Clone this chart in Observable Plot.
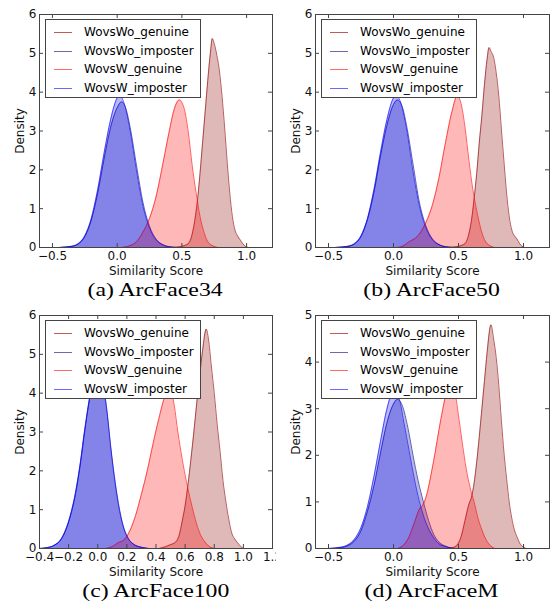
<!DOCTYPE html>
<html>
<head>
<meta charset="utf-8">
<script src="https://cdn.jsdelivr.net/npm/d3@7"></script>
<script src="https://cdn.jsdelivr.net/npm/@observablehq/plot@0.6"></script>
<style>
  html, body { margin: 0; padding: 0; background: #fff; }
  #root { position: relative; width: 552px; height: 605px; overflow: hidden; }
  .cell { position: absolute; width: 276px; height: 301px; }
  .cell svg { position: absolute; left: 0; top: 0; }
  .caption { position: absolute; top: 281px; line-height: 18px; text-align: center;
             font-family: "Liberation Serif", "Times New Roman", serif; font-size: 19px; color: #000; white-space: nowrap; }
  .caption span { display: inline-block; transform: scaleX(1.25); }
  .legend { position: absolute; left: 45px; top: 19px; width: 154px; height: 77px; background: #fff;
            border: 1px solid #444; font-family: "DejaVu Sans", sans-serif; font-size: 12px; }
  .legend .row { position: absolute; left: 0; width: 154px; height: 18px; line-height: 18px; }
  .legend .sw { position: absolute; left: 8px; top: 9px; width: 18px; height: 1px; }
  .legend .lab { position: absolute; left: 38px; top: 0; white-space: nowrap; color: #000; }
</style>
</head>
<body>
<div id="root"></div>
<script>
// ---------- tick values ----------
const xTicksStd = [-0.5, 0.0, 0.5, 1.0];
const xTicksC = [-0.4, -0.2, 0.0, 0.2, 0.4, 0.6, 0.8, 1.0, 1.2];
const yTicks6 = [0, 1, 2, 3, 4, 5, 6];
const yTicks5 = [0, 1, 2, 3, 4, 5];

const seriesNames = ["WovsWo_genuine", "WovsWo_imposter", "WovsW_genuine", "WovsW_imposter"];
const xLabel = "Similarity Score";
const yLabel = "Density";

// ---------- (a) ArcFace34 : [score, density] ----------
const a_WovsWo_genuine = [[0.43,0],[0.5,0.03],[0.55,0.1],[0.58,0.35],[0.6,0.7],[0.62,1.2],[0.64,1.9],[0.66,2.7],[0.68,3.5],[0.7,4.3],[0.72,5.0],[0.735,5.38],[0.75,5.25],[0.77,4.95],[0.79,4.55],[0.81,3.9],[0.83,3.1],[0.85,2.2],[0.87,1.4],[0.89,0.8],[0.91,0.45],[0.93,0.3],[0.95,0.2],[0.97,0.1],[0.99,0.03],[1.01,0]];
const a_WovsWo_imposter = [[-0.45,0],[-0.35,0.03],[-0.3,0.09],[-0.25,0.28],[-0.2,0.7],[-0.15,1.4],[-0.1,2.3],[-0.05,3.1],[0.0,3.6],[0.035,3.75],[0.07,3.55],[0.1,3.1],[0.15,2.1],[0.2,1.15],[0.25,0.55],[0.3,0.22],[0.35,0.08],[0.4,0.02],[0.48,0]];
const a_WovsW_genuine = [[0.03,0],[0.1,0.05],[0.15,0.15],[0.2,0.4],[0.25,0.75],[0.3,1.3],[0.35,2.1],[0.4,2.95],[0.44,3.55],[0.48,3.8],[0.52,3.55],[0.55,2.95],[0.58,2.1],[0.61,1.4],[0.64,0.8],[0.67,0.4],[0.7,0.15],[0.74,0.04],[0.78,0]];
const a_WovsW_imposter = [[-0.45,0],[-0.35,0.03],[-0.3,0.1],[-0.25,0.3],[-0.2,0.75],[-0.15,1.5],[-0.1,2.45],[-0.05,3.3],[0.0,3.85],[0.02,3.92],[0.05,3.75],[0.1,3.0],[0.15,1.95],[0.2,1.05],[0.25,0.5],[0.3,0.2],[0.35,0.07],[0.4,0.02],[0.45,0]];

// ---------- (b) ArcFace50 ----------
const b_WovsWo_genuine = [[0.43,0],[0.5,0.03],[0.55,0.1],[0.58,0.35],[0.6,0.7],[0.62,1.25],[0.64,1.9],[0.66,2.7],[0.68,3.4],[0.7,4.2],[0.72,4.85],[0.735,5.15],[0.75,5.05],[0.77,4.9],[0.79,4.5],[0.81,3.9],[0.83,3.05],[0.85,2.2],[0.87,1.4],[0.89,0.8],[0.91,0.45],[0.93,0.3],[0.95,0.22],[0.97,0.1],[0.99,0.03],[1.01,0]];
const b_WovsWo_imposter = [[-0.45,0],[-0.35,0.03],[-0.3,0.09],[-0.25,0.28],[-0.2,0.72],[-0.15,1.42],[-0.1,2.35],[-0.05,3.15],[0.0,3.68],[0.03,3.8],[0.07,3.6],[0.1,3.15],[0.15,2.15],[0.2,1.15],[0.25,0.55],[0.3,0.22],[0.35,0.08],[0.4,0.02],[0.48,0]];
const b_WovsW_genuine = [[0.03,0],[0.08,0.05],[0.12,0.15],[0.16,0.22],[0.2,0.35],[0.25,0.65],[0.3,1.1],[0.35,1.8],[0.4,2.7],[0.45,3.5],[0.49,3.9],[0.52,3.7],[0.55,3.1],[0.58,2.25],[0.61,1.5],[0.64,0.95],[0.67,0.5],[0.7,0.2],[0.74,0.05],[0.78,0]];
const b_WovsW_imposter = [[-0.45,0],[-0.35,0.03],[-0.3,0.1],[-0.25,0.3],[-0.2,0.75],[-0.15,1.5],[-0.1,2.45],[-0.05,3.3],[0.0,3.85],[0.02,3.92],[0.05,3.78],[0.1,3.05],[0.15,1.95],[0.2,1.05],[0.25,0.5],[0.3,0.2],[0.35,0.07],[0.4,0.02],[0.45,0]];

// ---------- (c) ArcFace100 ----------
const c_WovsWo_genuine = [[0.42,0],[0.47,0.05],[0.5,0.1],[0.53,0.15],[0.56,0.35],[0.58,0.7],[0.6,1.1],[0.62,1.65],[0.64,2.3],[0.66,3.0],[0.68,3.75],[0.7,4.45],[0.72,5.1],[0.745,5.65],[0.76,5.4],[0.78,4.7],[0.8,4.0],[0.82,3.2],[0.84,2.5],[0.86,1.75],[0.88,1.2],[0.9,0.75],[0.92,0.4],[0.94,0.25],[0.96,0.15],[0.98,0.06],[1.0,0]];
const c_WovsWo_imposter = [[-0.4,0],[-0.35,0.02],[-0.3,0.08],[-0.25,0.24],[-0.2,0.68],[-0.15,1.45],[-0.12,2.15],[-0.09,3.0],[-0.06,3.75],[-0.03,4.35],[0.0,4.58],[0.03,4.35],[0.06,3.65],[0.09,2.6],[0.12,1.7],[0.15,1.0],[0.18,0.52],[0.21,0.26],[0.25,0.1],[0.3,0.03],[0.35,0]];
const c_WovsW_genuine = [[0.05,0],[0.1,0.05],[0.14,0.15],[0.18,0.22],[0.22,0.45],[0.26,0.85],[0.3,1.4],[0.34,2.0],[0.38,2.7],[0.42,3.35],[0.46,3.9],[0.49,4.1],[0.52,3.8],[0.55,3.0],[0.58,2.3],[0.61,1.7],[0.64,1.2],[0.67,0.75],[0.7,0.4],[0.73,0.2],[0.76,0.07],[0.8,0]];
const c_WovsW_imposter = [[-0.4,0],[-0.35,0.02],[-0.3,0.08],[-0.25,0.25],[-0.2,0.7],[-0.15,1.5],[-0.12,2.2],[-0.09,3.05],[-0.06,3.8],[-0.03,4.4],[0.0,4.6],[0.03,4.3],[0.06,3.6],[0.09,2.55],[0.12,1.65],[0.15,0.95],[0.18,0.5],[0.21,0.25],[0.25,0.1],[0.3,0.03],[0.35,0]];

// ---------- (d) ArcFaceM ----------
const d_WovsWo_genuine = [[0.43,0],[0.48,0.05],[0.52,0.25],[0.55,0.6],[0.58,0.95],[0.6,1.1],[0.62,1.4],[0.64,1.85],[0.66,2.4],[0.68,3.0],[0.7,3.6],[0.72,4.2],[0.75,4.8],[0.77,4.5],[0.79,4.1],[0.81,3.5],[0.83,2.75],[0.85,2.05],[0.87,1.5],[0.89,1.0],[0.91,0.65],[0.93,0.4],[0.95,0.25],[0.97,0.12],[1.0,0.03],[1.02,0]];
const d_WovsWo_imposter = [[-0.5,0],[-0.4,0.02],[-0.35,0.06],[-0.3,0.16],[-0.25,0.38],[-0.2,0.8],[-0.15,1.35],[-0.1,2.05],[-0.05,2.7],[0.0,3.1],[0.03,3.2],[0.07,3.05],[0.11,2.6],[0.15,2.0],[0.19,1.45],[0.23,1.0],[0.27,0.6],[0.31,0.3],[0.35,0.14],[0.4,0.05],[0.48,0]];
const d_WovsW_genuine = [[0.03,0],[0.08,0.08],[0.12,0.25],[0.16,0.55],[0.2,0.85],[0.23,0.95],[0.26,1.2],[0.29,1.6],[0.32,2.05],[0.35,2.55],[0.38,3.0],[0.41,3.4],[0.44,3.6],[0.47,3.4],[0.5,2.85],[0.53,2.25],[0.56,1.7],[0.59,1.3],[0.62,1.0],[0.65,0.65],[0.68,0.4],[0.71,0.2],[0.75,0.05],[0.78,0]];
const d_WovsW_imposter = [[-0.5,0],[-0.4,0.03],[-0.35,0.08],[-0.3,0.2],[-0.25,0.45],[-0.2,0.9],[-0.15,1.55],[-0.1,2.3],[-0.05,3.0],[0.0,3.38],[0.04,3.25],[0.08,2.7],[0.12,2.1],[0.16,1.5],[0.2,1.0],[0.25,0.55],[0.3,0.27],[0.35,0.1],[0.4,0.04],[0.46,0]];

// ---------- styling (kept apart from the data) ----------
const seriesColors = ["#8b0000", "#00008b", "#ff0000", "#0000ff"];
const legendColors = ["#c25a5a", "#6a6ab4", "#ff6a6a", "#6a6aff"];
const fillOpacity = 0.28;
const lineOpacity = 0.62;
const axisColor = "#444";

const panels = [
  {col: 0, row: 0, caption: "(a) ArcFace34", xDomain: [-0.6, 1.2], xTicks: xTicksStd, yTicks: yTicks6,
   series: [a_WovsWo_genuine, a_WovsWo_imposter, a_WovsW_genuine, a_WovsW_imposter]},
  {col: 1, row: 0, caption: "(b) ArcFace50", xDomain: [-0.6, 1.2], xTicks: xTicksStd, yTicks: yTicks6,
   series: [b_WovsWo_genuine, b_WovsWo_imposter, b_WovsW_genuine, b_WovsW_imposter]},
  {col: 0, row: 1, caption: "(c) ArcFace100", xDomain: [-0.4, 1.2], xTicks: xTicksC, yTicks: yTicks6,
   series: [c_WovsWo_genuine, c_WovsWo_imposter, c_WovsW_genuine, c_WovsW_imposter]},
  {col: 1, row: 1, caption: "(d) ArcFaceM", xDomain: [-0.6, 1.2], xTicks: xTicksStd, yTicks: yTicks5,
   series: [d_WovsWo_genuine, d_WovsWo_imposter, d_WovsW_genuine, d_WovsW_imposter]}
];

const fmtX = d => d.toFixed(1).replace("-", "\u2212");
const root = document.getElementById("root");
const legendRowTops = [3, 22, 40, 59];

for (const p of panels) {
  const W = 276, H = 280, mt = 14, mb = 33, ml = 39, mr = p.col ? 3 : 4;
  const fw = W - ml - mr, fh = H - mt - mb;
  const marks = [];
  p.series.forEach((s, i) => {
    marks.push(Plot.areaY(s, {x: d => d[0], y: d => d[1], fill: seriesColors[i], fillOpacity, curve: "monotone-x"}));
    marks.push(Plot.line(s, {x: d => d[0], y: d => d[1], stroke: seriesColors[i], strokeOpacity: lineOpacity, strokeWidth: 1, curve: "monotone-x"}));
  });
  marks.push(Plot.tickX(p.xTicks, {x: d => d, insetTop: fh - 4, stroke: axisColor}));
  marks.push(Plot.tickX(p.xTicks, {x: d => d, insetBottom: fh - 4, stroke: axisColor}));
  marks.push(Plot.tickY(p.yTicks, {y: d => d, insetLeft: fw - 4, stroke: axisColor}));
  marks.push(Plot.tickY(p.yTicks, {y: d => d, insetRight: fw - 4, stroke: axisColor}));
  marks.push(Plot.frame({stroke: axisColor}));
  marks.push(Plot.text([xLabel], {text: d => d, frameAnchor: "bottom", lineAnchor: "middle", textAnchor: "middle", dy: 24, fontSize: 12, fill: "#111"}));
  marks.push(Plot.text([yLabel], {text: d => d, frameAnchor: "left", lineAnchor: "middle", textAnchor: "middle", rotate: -90, dx: -19, fontSize: 12, fill: "#111"}));

  const svg = Plot.plot({
    width: W, height: H, marginTop: mt, marginBottom: mb, marginLeft: ml, marginRight: mr,
    style: {fontFamily: "DejaVu Sans, sans-serif", fontSize: "12px", background: "transparent", overflow: "hidden", color: "#111"},
    x: {domain: p.xDomain, ticks: p.xTicks, tickFormat: fmtX, tickSize: 0, tickPadding: 4, label: null},
    y: {domain: [0, p.yTicks[p.yTicks.length - 1]], ticks: p.yTicks, tickFormat: d => String(d), tickSize: 0, tickPadding: 3, label: null},
    marks
  });

  const cell = document.createElement("div");
  cell.className = "cell";
  cell.style.left = (p.col * 276) + "px";
  cell.style.top = (p.row * 301) + "px";
  cell.appendChild(svg);

  const leg = document.createElement("div");
  leg.className = "legend";
  seriesNames.forEach((name, i) => {
    const row = document.createElement("div");
    row.className = "row";
    row.style.top = legendRowTops[i] + "px";
    const sw = document.createElement("div");
    sw.className = "sw";
    sw.style.background = legendColors[i];
    const lab = document.createElement("div");
    lab.className = "lab";
    lab.textContent = name;
    row.appendChild(sw); row.appendChild(lab);
    leg.appendChild(row);
  });
  cell.appendChild(leg);

  const cap = document.createElement("div");
  cap.className = "caption";
  cap.style.left = ml + "px";
  cap.style.width = fw + "px";
  const span = document.createElement("span");
  span.textContent = p.caption;
  cap.appendChild(span);
  cell.appendChild(cap);

  root.appendChild(cell);
}
</script>
</body>
</html>
